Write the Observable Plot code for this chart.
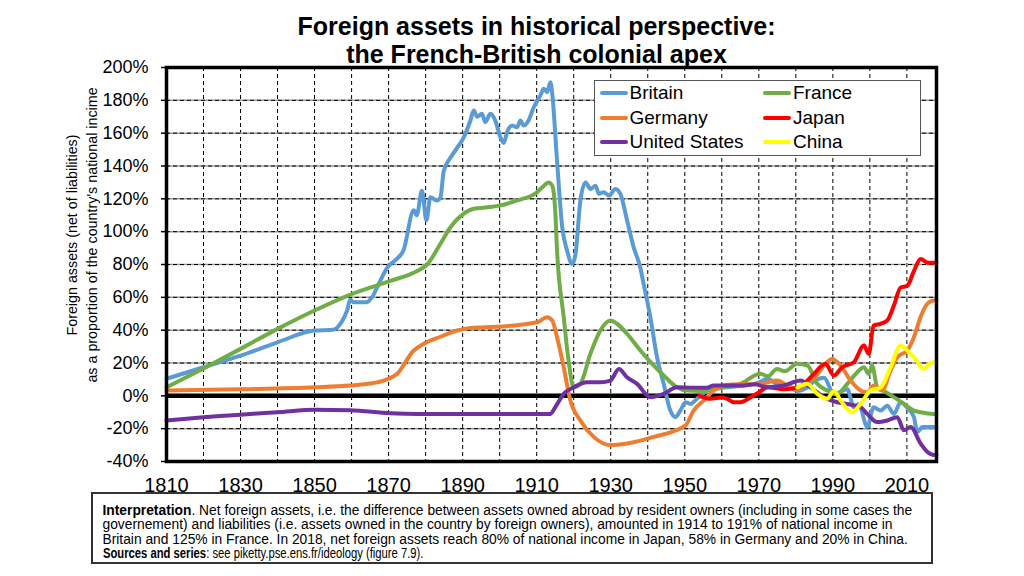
<!DOCTYPE html>
<html>
<head>
<meta charset="utf-8">
<script src="https://cdn.jsdelivr.net/npm/d3@7"></script>
<script src="https://cdn.jsdelivr.net/npm/@observablehq/plot@0.6"></script>
<style>
  html, body { margin: 0; padding: 0; background: #fff; }
  body { font-family: "Liberation Sans", Arial, sans-serif; color: #000; }
  #wrap { position: relative; width: 1024px; height: 576px; overflow: hidden; }
  #title { position: absolute; top: 12px; left: 0; width: 1024px; box-sizing: border-box; padding-left: 49px;
           text-align: center; font-weight: bold; font-size: 25px; line-height: 28.4px; z-index: 3; }
  #chart { position: absolute; top: 60px; left: 0; }
  #ytitle { position: absolute; left: -78px; top: 215px; width: 320px; height: 40px; text-align: center;
            font-size: 14.3px; line-height: 20px; transform: rotate(-90deg); transform-origin: 50% 50%; white-space: nowrap; }
  #legend { position: absolute; left: 594px; top: 80px; width: 327px; height: 76px; box-sizing: border-box;
            border: 1.5px solid #555; background: #fff; z-index: 2; }
  .item { position: absolute; height: 24px; display: flex; align-items: center; font-size: 19px; line-height: 24px; white-space: nowrap; }
  .sw { width: 28px; height: 4px; border-radius: 2px; margin-right: 2px; }
  #caption { position: absolute; left: 91px; top: 492px; width: 842px; height: 72px; box-sizing: border-box;
             border: 2px solid #333; padding: 9.5px 0 0 9.5px; font-size: 13.8px; line-height: 14.6px; white-space: nowrap; background: #fff; }
  #caption .narrow { display: inline-block; transform: scaleX(0.815); transform-origin: 0 50%; }
</style>
</head>
<body>
<div id="wrap">
  <div id="title">Foreign assets in historical perspective:<br>the French-British colonial apex</div>
  <div id="ytitle">Foreign assets (net of liabilities)<br>as a proportion of the country's national incime</div>
  <div id="legend"></div>
  <div id="caption"><b>Interpretation</b>. Net foreign assets, i.e. the difference between assets owned abroad by resident owners (including in some cases the<br>governement) and liabilities (i.e. assets owned in the country by foreign owners), amounted in 1914 to 191% of national income in<br>Britain and 125% in France. In 2018, net foreign assets reach 80% of national income in Japan, 58% in Germany and 20% in China.<br><span class="narrow"><b>Sources and series</b>: see piketty.pse.ens.fr/ideology (figure 7.9).</span></div>
</div>
<script>
// ---- Data (year, % of national income) ----
const britain = [[1810,10.4],[1820,17.4],[1830,24.5],[1840,32.6],[1850,39.8],[1855,40.2],[1857,44],[1858.8,52],[1859.6,58.5],[1860.5,57],[1864,57],[1865.5,60],[1867.3,68],[1869.6,78],[1872,83],[1874,88.5],[1876.8,113],[1877.6,110],[1879,125],[1880.2,107],[1881.3,121],[1883,119],[1884,121],[1884.9,137],[1886.7,145],[1888.5,151],[1890.3,157.5],[1892.1,167.7],[1893,173.8],[1893.9,170],[1895.2,171.8],[1896.1,166.7],[1897.5,171.8],[1898.8,167.7],[1900.2,157.5],[1901.1,154],[1902,160.6],[1903.4,164.6],[1904.7,163.6],[1905.6,167.7],[1906.5,164.6],[1907.8,167.7],[1909.2,175.8],[1911,183],[1911.9,187],[1912.8,185],[1913.7,191],[1914.2,184],[1915.5,143],[1916.9,102.7],[1918.2,88.5],[1919.6,80.4],[1920.5,86.5],[1921.8,119],[1923.2,130],[1924.5,126],[1925.9,128],[1926.8,123],[1928.1,124],[1929.5,122],[1931.3,126],[1932.6,123],[1934.4,107],[1936.2,90.5],[1938,78],[1938.9,68],[1940.7,48],[1942.5,23.5],[1944.3,7.3],[1946.1,-9],[1947.5,-13],[1948.8,-9],[1950.2,-3.9],[1951.5,-4.9],[1953.3,-1.8],[1956,3],[1960,5],[1965,6],[1970,8],[1972.3,10.4],[1975,7],[1978,6],[1980.4,3],[1983,5],[1985,9],[1987.6,11],[1990.3,1],[1993.9,4],[1995.7,-7],[1997,-5],[1999.3,-19],[2001,-7],[2002.9,-9],[2004.7,-6],[2006.5,-11],[2008.3,-3.9],[2010,-7],[2011.9,-13],[2012.8,-22],[2014.2,-19],[2017.3,-19],[2018,-19]];
const france = [[1810,5.2],[1820,16.7],[1830,28.6],[1840,40.8],[1850,52],[1860,62],[1870.5,70],[1877.7,76],[1880.4,80],[1884,92.6],[1886.7,102.7],[1890.3,111],[1893,114],[1897.5,115],[1900.2,116],[1904.7,119],[1910.1,124],[1911.5,127],[1913.2,130],[1914.2,128],[1915,113],[1915.5,88.5],[1917.3,48],[1918.6,21.5],[1920,5.2],[1921.8,7.3],[1924.5,25.6],[1927.2,39.8],[1929.9,45.9],[1931.7,43.9],[1934.4,37.8],[1938,27.6],[1941.6,18.5],[1945.2,10.4],[1947.9,5.2],[1950.6,3.2],[1954,3],[1960.5,5.2],[1965,7.3],[1970.4,13.4],[1972.5,12],[1974.9,16.4],[1977,15],[1980.4,19.5],[1983.1,18.5],[1985.8,7.3],[1988.5,3.2],[1991.2,1.2],[1993.9,7.3],[1996.6,14.4],[1998.4,17.4],[1999.7,13.4],[2000.6,18.5],[2002,5.2],[2003.8,3],[2006.5,-0.8],[2009.2,-4.9],[2011.9,-9],[2013.7,-10],[2017.3,-11],[2018,-11]];
const germany = [[1810,3.2],[1830,4],[1850.2,5.2],[1859.6,6.3],[1865,7.5],[1868.6,9.3],[1872.3,13.4],[1876.8,27.6],[1879.5,31.7],[1884,36],[1888.5,39.8],[1892.1,41.4],[1900.2,42.2],[1910.1,44.8],[1912.8,47.9],[1914.2,45.9],[1915.5,35.7],[1917.3,17.4],[1919.1,-2.9],[1921.8,-15],[1925.4,-25],[1929.9,-30],[1934.4,-29],[1941.6,-25],[1950.2,-18],[1952.4,-9],[1955.1,-2.9],[1957.8,3.2],[1960.5,6.3],[1965,7],[1970,7],[1974.9,9.3],[1978,6],[1980.4,4],[1983,8],[1985.5,12],[1987.6,18.5],[1989.8,22.5],[1992.1,18.5],[1994.8,9.3],[1997.5,3.2],[1999.3,2],[2001,6.3],[2003.3,3.2],[2005.6,15.4],[2007.4,23.5],[2010.1,27.6],[2011.9,35.7],[2013.7,48],[2015.5,56],[2017.3,58],[2018,58]];
const japan = [[1954,0],[1956.9,-1.8],[1960,-1],[1961.5,-1.8],[1963.2,-3.9],[1965,-3.9],[1967.7,-1],[1970,2],[1972.3,5.2],[1976.8,4],[1980.4,5],[1982.2,7.3],[1984.9,13.4],[1988,19.5],[1990.3,12.4],[1992.5,17.4],[1995.7,20.5],[1998.4,30.6],[1999.7,25.6],[2001,42.8],[2002.9,43.9],[2004.7,45.9],[2006.5,55],[2008.3,66],[2010.1,67],[2011.9,76],[2013.7,83.4],[2015.7,81],[2017.3,81],[2018,81]];
const unitedStates = [[1810,-15],[1820,-13],[1832.6,-11],[1840,-10],[1850.2,-8.5],[1859.6,-8.8],[1870.5,-10.6],[1877.7,-11],[1913.7,-11],[1915,-7],[1917.3,1.2],[1920,5.2],[1923.6,8.3],[1927.2,8.3],[1929.9,9.3],[1932.2,16.4],[1934.4,11.3],[1937.1,7.3],[1940.7,-0.8],[1944.3,1.2],[1947.9,5.2],[1951.5,5],[1956,4.9],[1957.8,6.3],[1965,6.3],[1969,7],[1972.3,5.2],[1976.8,6.3],[1981.3,9.3],[1984,5.2],[1987.6,-0.8],[1991.2,-3.9],[1993.9,-5],[1997.5,-7],[1999.3,-11],[2002,-16],[2004.7,-15],[2007.4,-13],[2009.2,-21],[2011,-19],[2013.7,-29],[2015.5,-34],[2017.3,-36],[2018,-36]];
const china = [[1980.4,5],[1983.1,7.3],[1985.8,1.2],[1988.5,-1.8],[1990.3,3],[1992.1,-2.9],[1995.2,-10],[1997.5,-4.9],[2000.2,3.2],[2002.9,5],[2005.6,17.4],[2008.3,30.6],[2010.1,27.6],[2011.9,23.5],[2014.6,16.4],[2016.4,20],[2017.3,20.5],[2018,21]];

const seriesNames = ["Britain", "France", "Germany", "Japan", "United States", "China"];
const seriesColors = ["#5B9BD5", "#70AD47", "#ED7D31", "#FF0000", "#7030A0", "#FFFF00"];
const seriesData = [britain, france, germany, japan, unitedStates, china];

const xTicks = [1810, 1830, 1850, 1870, 1890, 1910, 1930, 1950, 1970, 1990, 2010];
const yTicks = [-40, -20, 0, 20, 40, 60, 80, 100, 120, 140, 160, 180, 200];
const xGrid = [1820, 1830, 1840, 1850, 1860, 1870, 1880, 1890, 1900, 1910, 1920, 1930, 1940, 1950, 1960, 1970, 1980, 1990, 2000, 2010];
const yGrid = [-20, 20, 40, 60, 80, 100, 120, 140, 160, 180];

const rows = seriesNames.flatMap((name, i) => seriesData[i].map(([year, value]) => ({country: name, year, value})));

const chart = Plot.plot({
  width: 1024,
  height: 442,
  marginTop: 7,
  marginBottom: 41,
  marginLeft: 166,
  marginRight: 88,
  style: {fontFamily: "'Liberation Sans', Arial, sans-serif", background: "transparent", color: "#000", overflow: "visible"},
  x: {domain: [1810, 2018]},
  y: {domain: [-40, 200]},
  color: {domain: seriesNames, range: seriesColors},
  marks: [
    Plot.ruleX(xGrid, {stroke: "#000", strokeWidth: 1, strokeDasharray: "4,3"}),
    Plot.ruleY(yGrid, {stroke: "#999", strokeWidth: 1.5}),
    Plot.ruleY(yGrid, {stroke: "#000", strokeWidth: 1, strokeDasharray: "4,3"}),
    Plot.ruleY([0], {stroke: "#000", strokeWidth: 4.5}),
    Plot.line(rows, {x: "year", y: "value", z: "country", stroke: "country", strokeWidth: 4, curve: "monotone-x", strokeLinejoin: "round", strokeLinecap: "round"}),
    Plot.frame({stroke: "#000", strokeWidth: 3.5}),
    Plot.axisX({ticks: xTicks, tickFormat: "d", tickSize: 0, tickPadding: 16, fontSize: 20, label: null}),
    Plot.axisY({ticks: yTicks, tickFormat: d => d + "%", tickSize: 5, tickPadding: 13, fontSize: 18, strokeWidth: 1.5, label: null})
  ]
});
chart.id = "chart";
document.getElementById("wrap").insertBefore(chart, document.getElementById("caption"));

// Legend (HTML overlay)
const legend = document.getElementById("legend");
const legendPos = [[600, 93.5], [763.5, 93.5], [600, 118], [763.5, 118], [600, 142.5], [763.5, 142.5]];
const legendOrder = ["Britain", "France", "Germany", "Japan", "United States", "China"];
legendOrder.forEach((name, i) => {
  const [lx, ly] = legendPos[i];
  const item = document.createElement("div");
  item.className = "item";
  item.style.left = (lx - 594 - 1.5) + "px";
  item.style.top = (ly - 80 - 1.5 - 12) + "px";
  const sw = document.createElement("div");
  sw.className = "sw";
  sw.style.background = seriesColors[seriesNames.indexOf(name)];
  const label = document.createElement("span");
  label.textContent = name;
  item.appendChild(sw);
  item.appendChild(label);
  legend.appendChild(item);
});
</script>
</body>
</html>
